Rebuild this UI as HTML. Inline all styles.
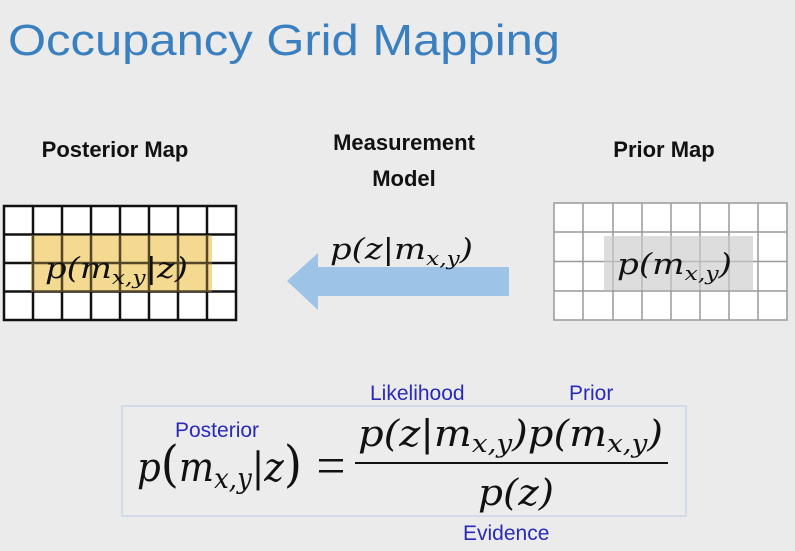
<!DOCTYPE html>
<html><head><meta charset="utf-8"><style>
html,body{margin:0;padding:0;background:#ebebeb;}
svg{display:block}
.m{font-family:"DejaVu Serif","Liberation Serif",serif;font-style:italic;fill:#111}
.b{font-family:"Liberation Sans",sans-serif;font-weight:bold;fill:#111;font-size:22px}
.l{font-family:"Liberation Sans",sans-serif;fill:#2a2ab8;font-size:21px}
</style></head><body>
<svg width="795" height="551" viewBox="0 0 795 551" xmlns="http://www.w3.org/2000/svg">
<rect width="795" height="551" fill="#ebebeb"/>
<text x="8" y="55" font-family="Liberation Sans,sans-serif" font-size="44" fill="#3a7fc0" textLength="552" lengthAdjust="spacingAndGlyphs">Occupancy Grid Mapping</text>

<text class="b" x="115" y="157" text-anchor="middle">Posterior Map</text>
<text class="b" x="404" y="150" text-anchor="middle">Measurement</text>
<text class="b" x="404" y="186" text-anchor="middle">Model</text>
<text class="b" x="664" y="157" text-anchor="middle">Prior Map</text>

<!-- left grid -->
<rect x="4" y="206" width="232" height="114" fill="#fff"/>
<rect x="31" y="235" width="181" height="57" fill="#f6e1a6"/>
<g stroke="#111" stroke-width="2.5" fill="none">
<rect x="4" y="206" width="232" height="114"/>
<path d="M33 206V320M62 206V320M91 206V320M120 206V320M149 206V320M178 206V320M207 206V320M4 234.5H236M4 263H236M4 291.5H236"/>
</g>
<rect x="31" y="235" width="181" height="57" fill="#f0c860" opacity="0.3"/>
<text class="m" x="45" y="278" font-size="29" textLength="143" lengthAdjust="spacingAndGlyphs">p(m<tspan font-size="20" dy="6">x,y</tspan><tspan dy="-6" font-style="normal">|</tspan>z)</text>

<!-- right grid -->
<rect x="554" y="203" width="233" height="117" fill="#fff"/>
<rect x="604" y="236" width="149" height="54" fill="#e3e3e3"/>
<g stroke="#999" stroke-width="1.5" fill="none">
<rect x="554" y="203" width="233" height="117"/>
<path d="M583 203V320M613 203V320M642 203V320M671 203V320M700 203V320M729 203V320M758 203V320M554 232H787M554 261.5H787M554 291H787"/>
</g>
<rect x="604" y="236" width="149" height="54" fill="#d8d8d8" opacity="0.5"/>
<text class="m" x="617" y="274" font-size="29" textLength="115" lengthAdjust="spacingAndGlyphs">p(m<tspan font-size="20" dy="6">x,y</tspan><tspan dy="-6">)</tspan></text>

<!-- arrow -->
<polygon points="287,281 318,253 318,267 509,267 509,296 318,296 318,310" fill="#9dc3e6"/>
<text class="m" x="330" y="259" font-size="29" textLength="143" lengthAdjust="spacingAndGlyphs">p(z<tspan font-style="normal">|</tspan>m<tspan font-size="20" dy="6">x,y</tspan><tspan dy="-6">)</tspan></text>

<!-- formula -->
<rect x="122" y="406" width="564" height="110" fill="#ececec" stroke="#c9d6e4" stroke-width="1.5"/>
<text class="l" x="370" y="400">Likelihood</text>
<text class="l" x="569" y="400">Prior</text>
<text class="l" x="175" y="437">Posterior</text>
<text class="l" x="463" y="540">Evidence</text>
<text class="m" x="137" y="481" font-size="40" textLength="165" lengthAdjust="spacingAndGlyphs">p<tspan font-style="normal" font-size="50">(</tspan>m<tspan font-size="28" dy="7">x,y</tspan><tspan dy="-7" font-style="normal">|</tspan>z<tspan font-style="normal" font-size="50">)</tspan></text>
<rect x="319" y="459" width="24" height="2.5" fill="#111"/>
<rect x="319" y="470" width="24" height="2.5" fill="#111"/>
<line x1="355" y1="463" x2="668" y2="463" stroke="#111" stroke-width="2"/>
<text class="m" x="358" y="446" font-size="36" textLength="305" lengthAdjust="spacingAndGlyphs">p(z<tspan font-style="normal">|</tspan>m<tspan font-size="25" dy="6">x,y</tspan><tspan dy="-6">)p(m</tspan><tspan font-size="25" dy="6">x,y</tspan><tspan dy="-6">)</tspan></text>
<text class="m" x="478" y="505" font-size="36" textLength="76" lengthAdjust="spacingAndGlyphs">p(z)</text>
</svg>
</body></html>
